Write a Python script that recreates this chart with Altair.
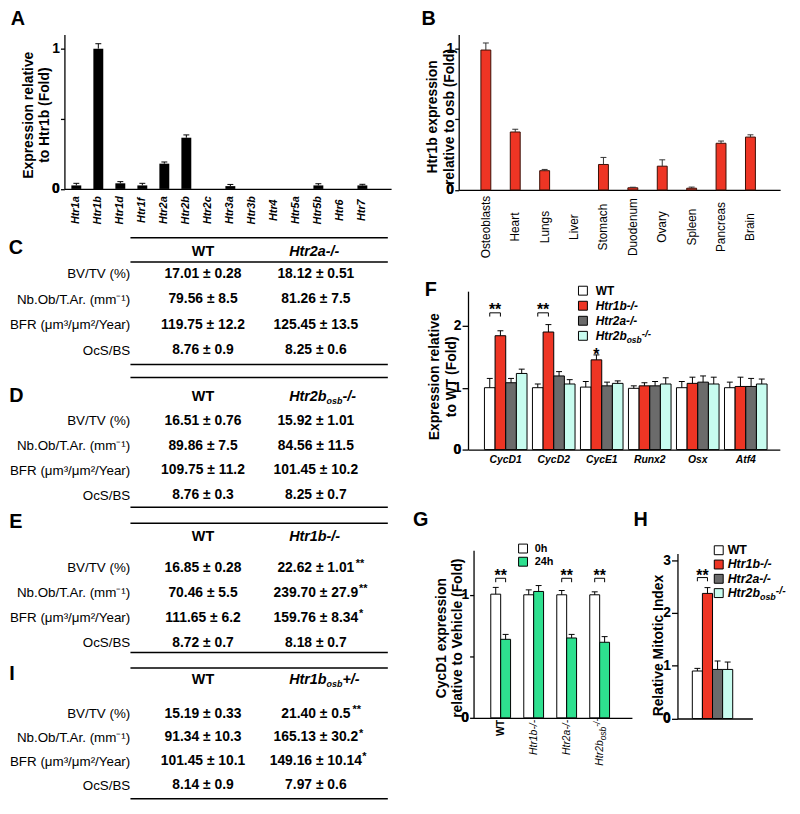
import altair as alt
import pandas as pd

FONT = "Liberation Sans"
RED = "#EE3524"
DARK = "#6B6B6B"
CYAN = "#C8FCEF"
GREEN = "#2EE08F"
WIDTH, HEIGHT = 792, 798
MARGIN = 8


def p(v):
    # page pixel -> plot pixel
    return v - MARGIN


BOLD_W = {"H": 722, "t": 333, "r": 389, "1": 556, "2": 556, "a": 556, "b": 611,
          "o": 611, "s": 556, "-": 333, "/": 278, "+": 584}
REG_W = {"H": 722, "t": 278, "r": 333, "1": 556, "2": 556, "a": 556, "b": 556,
         "o": 556, "s": 500, "-": 333, "/": 278, "+": 584}


def tw(s, size, table=BOLD_W):
    return sum(table[c] for c in s) * size / 1000.0


# ---------------- data ----------------
a_genes = ["Htr1a", "Htr1b", "Htr1d", "Htr1f", "Htr2a", "Htr2b", "Htr2c", "Htr3a",
           "Htr3b", "Htr4", "Htr5a", "Htr5b", "Htr6", "Htr7"]
a_mean = [0.025, 1.0, 0.04, 0.025, 0.18, 0.365, 0, 0.02, 0, 0, 0, 0.025, 0, 0.025]
a_err = [0.015, 0.035, 0.012, 0.015, 0.012, 0.02, 0, 0.012, 0, 0, 0, 0.012, 0, 0.008]

b_tissues = ["Osteoblasts", "Heart", "Lungs", "Liver", "Stomach", "Duodenum", "Ovary",
             "Spleen", "Pancreas", "Brain"]
b_mean = [0.99, 0.41, 0.136, 0, 0.18, 0.015, 0.168, 0.012, 0.33, 0.374]
b_err = [0.05, 0.02, 0.009, 0, 0.05, 0.004, 0.045, 0.008, 0.016, 0.016]

genotypes = ["WT", "Htr1b-/-", "Htr2a-/-", "Htr2bosb-/-"]
geno_colors = ["white", RED, DARK, CYAN]

f_genes = ["CycD1", "CycD2", "CycE1", "Runx2", "Osx", "Atf4"]
f_wt = [1.0, 1.0, 1.01, 0.99, 1.0, 1.0]
f_wt_err = [0.15, 0.06, 0.09, 0.04, 0.10, 0.09]
f_1b = [1.84, 1.90, 1.45, 1.03, 1.07, 1.02]
f_1b_err = [0.08, 0.12, 0.08, 0.05, 0.10, 0.15]
f_2a = [1.08, 1.19, 1.03, 1.03, 1.09, 1.02]
f_2a_err = [0.07, 0.07, 0.06, 0.07, 0.10, 0.13]
f_2b = [1.23, 1.06, 1.07, 1.06, 1.06, 1.06]
f_2b_err = [0.07, 0.07, 0.04, 0.10, 0.11, 0.08]
f_bracket_genes = ["CycD1", "CycD2"]
f_single_star_gene = "CycE1"

g_times = ["0h", "24h"]
g_0h = [1.005, 1.0, 1.0, 1.0]
g_0h_err = [0.055, 0.04, 0.035, 0.024]
g_24h = [0.638, 1.027, 0.649, 0.614]
g_24h_err = [0.04, 0.048, 0.029, 0.046]
g_bracket_groups = ["WT", "Htr2a-/-", "Htr2bosb-/-"]

h_set = ["Mitotic index"]
h_mean = [0.90, 2.37, 0.93, 0.93]
h_err = [0.05, 0.11, 0.16, 0.14]

metrics = ["BV/TV (%)", "Nb.Ob/T.Ar. (mm\u207b\u00b9)", "BFR (\u03bcm\u00b3/\u03bcm\u00b2/Year)", "OcS/BS"]
c_wt = ["17.01 \u00b1 0.28", "79.56 \u00b1 8.5", "119.75 \u00b1 12.2", "8.76 \u00b1 0.9"]
c_ko = ["18.12 \u00b1 0.51", "81.26 \u00b1 7.5", "125.45 \u00b1 13.5", "8.25 \u00b1 0.6"]
c_sig = ["", "", "", ""]
d_wt = ["16.51 \u00b1 0.76", "89.86 \u00b1 7.5", "109.75 \u00b1 11.2", "8.76 \u00b1 0.3"]
d_ko = ["15.92 \u00b1 1.01", "84.56 \u00b1 11.5", "101.45 \u00b1 10.2", "8.25 \u00b1 0.7"]
d_sig = ["", "", "", ""]
e_wt = ["16.85 \u00b1 0.28", "70.46 \u00b1 5.5", "111.65 \u00b1 6.2", "8.72 \u00b1 0.7"]
e_ko = ["22.62 \u00b1 1.01", "239.70 \u00b1 27.9", "159.76 \u00b1 8.34", "8.18 \u00b1 0.7"]
e_sig = ["**", "**", "*", ""]
i_wt = ["15.19 \u00b1 0.33", "91.34 \u00b1 10.3", "101.45 \u00b1 10.1", "8.14 \u00b1 0.9"]
i_ko = ["21.40 \u00b1 0.5", "165.13 \u00b1 30.2", "149.16 \u00b1 10.14", "7.97 \u00b1 0.6"]
i_sig = ["**", "*", "*", ""]


# ---------------- helpers ----------------
def bottom_axis(base_page, **kw):
    d = dict(orient="bottom", offset=p(base_page) - HEIGHT, title=None, ticks=False,
             tickSize=0, domainWidth=1.3, domainColor="black", labelColor="black",
             labelFont=FONT, labelOverlap=False, grid=False)
    d.update(kw)
    return alt.Axis(**d)


TITLE_SHIFT = 5  # rendered first title line sits ~5px left of the title anchor


def left_axis(ax_page, values, title, x_first_line, yc, lh=16.6, hide=None, tick=4):
    expr = "format(datum.value, '.1~f')"
    if hide is not None:
        expr = "datum.value == %s ? '' : %s" % (hide, expr)
    d = dict(orient="left", offset=-p(ax_page), values=values, labelExpr=expr, tickSize=tick,
             tickWidth=1.3, tickColor="black", labelPadding=1, labelFontSize=14,
             labelFontWeight="bold", labelFont=FONT, labelColor="black", domainWidth=1.3,
             labelOverlap=False, labelBound=False, labelFlush=False,
             domainColor="black", title=title, titleFont=FONT, titleFontSize=14,
             titleFontWeight="bold", titleColor="black",
             titleX=x_first_line + TITLE_SHIFT - ax_page, titleY=p(yc), titleAngle=270,
             titleAlign="center", titleBaseline="middle", titleLineHeight=lh, grid=False)
    return alt.Axis(**d)


def zero_label(df, ax_page, tick):
    # the baseline "0" tick label, placed through the panel's own y scale
    return alt.Chart(df.head(1)).mark_text(
        text="0", font=FONT, fontSize=14, fontWeight="bold", color="black",
        align="right", baseline="middle").encode(
        x=alt.value(p(ax_page) - tick - 1), y=alt.datum(0))


def yq(field):
    return alt.Y(field + ":Q")


def err_layers(df, x_enc, xo=None, color="black", cap=6):
    base = alt.Chart(df).transform_filter("datum.e > 0").transform_calculate(top="datum.v + datum.e")
    enc1 = dict(x=x_enc, y=yq("v"), y2="top:Q")
    enc2 = dict(x=x_enc, y=yq("top"))
    if xo is not None:
        enc1["xOffset"] = xo
        enc2["xOffset"] = xo
    r = base.mark_rule(color=color, strokeWidth=1).encode(**enc1)
    t = base.mark_tick(color=color, thickness=1, size=cap, orient="horizontal", opacity=1).encode(**enc2)
    return [r, t]


def bracket(df, field, sort, b0, b1, level, drop, stars, dy):
    out = [alt.Chart(df).mark_rule(color="black", strokeWidth=1).encode(
        x=alt.X(field + ":N", sort=sort, bandPosition=b0),
        x2=alt.X2(field + ":N", bandPosition=b1), y=alt.datum(level))]
    for bp in (b0, b1):
        out.append(alt.Chart(df).mark_rule(color="black", strokeWidth=1).encode(
            x=alt.X(field + ":N", sort=sort, bandPosition=bp),
            y=alt.datum(level), y2=alt.datum(level - drop)))
    out.append(alt.Chart(df).mark_text(text=stars, font=FONT, fontSize=16, fontWeight="bold", dy=dy).encode(
        x=alt.X(field + ":N", sort=sort, bandPosition=(b0 + b1) / 2), y=alt.datum(level)))
    return out


layers = []

# ---------------- Panel A ----------------
dfA = pd.DataFrame({"gene": a_genes, "v": a_mean, "e": a_err})
xA = alt.X("gene:N", sort=a_genes,
           scale=alt.Scale(domain=a_genes, range=[p(65), p(395)], paddingInner=0.55,
                           paddingOuter=0.6975, align=0.226),
           axis=bottom_axis(186.7, labelAngle=270, labelAlign="center", labelBaseline="middle",
                            labelPadding=21, labelFontSize=11, labelFontStyle="italic",
                            labelFontWeight="bold"))
yA = alt.Y("v:Q", scale=alt.Scale(domain=[0, 1.1], range=[p(186.7), p(30.8)], nice=False, zero=False),
           axis=left_axis(65, [0, 0.5, 1], ["Expression relative", "to Htr1b (Fold)"], 23.5, 111.7, hide=0.5))
barsA = alt.Chart(dfA).mark_bar(color="black").encode(x=xA, y=yA)
xA2 = alt.X("gene:N", sort=a_genes)
layers.append(alt.layer(barsA, *err_layers(dfA, xA2), zero_label(dfA, 65, 4)))

# ---------------- Panel B ----------------
dfB = pd.DataFrame({"tissue": b_tissues, "v": b_mean, "e": b_err})
xB = alt.X("tissue:N", sort=b_tissues,
           scale=alt.Scale(domain=b_tissues, range=[p(463.3), p(788)], paddingInner=0.663,
                           paddingOuter=0.798, align=0.473),
           axis=bottom_axis(187.7, labelAngle=270, labelAlign="center", labelBaseline="middle",
                            labelPadding=37, labelFontSize=12, labelFontWeight="normal"))
yB = alt.Y("v:Q", scale=alt.Scale(domain=[0, 1.1], range=[p(187.7), p(30.7)], nice=False, zero=False),
           axis=left_axis(463.3, [0, 0.5, 1], ["Htr1b expression", "relative to osb (Fold)"], 432, 113.5, hide=0.5))
barsB = alt.Chart(dfB).transform_filter("datum.v > 0").mark_bar(color=RED, stroke="#3b0f06", strokeWidth=1).encode(x=xB, y=yB)
xB2 = alt.X("tissue:N", sort=b_tissues)
layers.append(alt.layer(barsB, *err_layers(dfB, xB2, color="#333333"), zero_label(dfB, 463.3, 4)))

# ---------------- Panel F ----------------
rows = []
for gi, g in enumerate(f_genes):
    for k, (vals, errs) in enumerate([(f_wt, f_wt_err), (f_1b, f_1b_err), (f_2a, f_2a_err), (f_2b, f_2b_err)]):
        rows.append({"gene": g, "grp": genotypes[k], "v": vals[gi], "e": errs[gi]})
dfF = pd.DataFrame(rows)
xF = alt.X("gene:N", sort=f_genes,
           scale=alt.Scale(domain=f_genes, range=[p(472.7), p(787.7)], paddingInner=0.113,
                           paddingOuter=0.304, align=0.563),
           axis=bottom_axis(450, labelAngle=0, labelBaseline="top", labelPadding=5, labelFontSize=10.5,
                            labelFontStyle="italic", labelFontWeight="bold"))
xoF = alt.XOffset("grp:N", sort=genotypes, scale=alt.Scale(domain=genotypes, paddingInner=0, paddingOuter=0))
yF = alt.Y("v:Q", scale=alt.Scale(domain=[0, 2.56], range=[p(450), p(290)], nice=False, zero=False),
           axis=left_axis(472.7, [0, 1, 2], ["Expression relative", "to WT (Fold)"], 434, 376, tick=6))
fillF = alt.Fill("grp:N", scale=alt.Scale(domain=genotypes, range=geno_colors), legend=None)
barsF = alt.Chart(dfF).mark_bar(stroke="black", strokeWidth=1).encode(x=xF, xOffset=xoF, y=yF, fill=fillF)
xF2 = alt.X("gene:N", sort=f_genes)
fl = [barsF] + err_layers(dfF, xF2, xo=alt.XOffset("grp:N", sort=genotypes))
fl += bracket(pd.DataFrame({"gene": f_bracket_genes}), "gene", f_genes, 0.125, 0.375, 2.21, 0.06, "**", -2.5)
fl.append(alt.Chart(dfF).transform_filter(
    "datum.gene == '%s' && datum.grp == 'Htr1b-/-'" % f_single_star_gene).transform_calculate(
    top="datum.v + datum.e").mark_text(text="*", font=FONT, fontSize=16, fontWeight="bold", dy=0.6).encode(
    x=xF2, xOffset=alt.XOffset("grp:N", sort=genotypes), y=yq("top")))
fl.append(zero_label(dfF, 472.7, 6))
layers.append(alt.layer(*fl))

# ---------------- Panel G ----------------
rows = []
for gi, g in enumerate(genotypes):
    rows.append({"grp": g, "time": "0h", "v": g_0h[gi], "e": g_0h_err[gi]})
    rows.append({"grp": g, "time": "24h", "v": g_24h[gi], "e": g_24h_err[gi]})
dfG = pd.DataFrame(rows)
xG = alt.X("grp:N", sort=genotypes,
           scale=alt.Scale(domain=genotypes, range=[p(478.3), p(638.3)], paddingInner=0.4,
                           paddingOuter=0.6, align=0.435),
           axis=bottom_axis(721, labels=False))
xoG = alt.XOffset("time:N", sort=g_times, scale=alt.Scale(domain=g_times, paddingInner=0, paddingOuter=0))
yG = alt.Y("v:Q", scale=alt.Scale(domain=[0, 1.362], range=[p(721), p(551.7)], nice=False, zero=False),
           axis=left_axis(478.3, [0, 0.5, 1], ["CycD1 expression", "relative to Vehicle (Fold)"], 440.7, 640, hide=0.5))
fillG = alt.Fill("time:N", scale=alt.Scale(domain=g_times, range=["white", GREEN]), legend=None)
barsG = alt.Chart(dfG).mark_bar(stroke="black", strokeWidth=1).encode(x=xG, xOffset=xoG, y=yG, fill=fillG)
xG2 = alt.X("grp:N", sort=genotypes)
gl = [barsG] + err_layers(dfG, xG2, xo=alt.XOffset("time:N", sort=g_times))
gl += bracket(pd.DataFrame({"grp": g_bracket_groups}), "grp", genotypes, 0.25, 0.75, 1.134, 0.032, "**", -2.5)
# category labels (rotated)
dfGl = pd.DataFrame({"grp": genotypes, "v": [0.0] * len(genotypes)})
gl.append(alt.Chart(dfGl).transform_filter("datum.grp == 'WT'").mark_text(
    font=FONT, fontSize=10.5, fontWeight="bold", angle=270, align="right", baseline="middle", dx=-2).encode(
    x=xG2, y=yq("v"), text="grp:N"))
gl.append(alt.Chart(dfGl).transform_filter("datum.grp == 'Htr1b-/-' || datum.grp == 'Htr2a-/-'").mark_text(
    font=FONT, fontSize=10.5, fontStyle="italic", angle=270, align="right", baseline="middle", dx=-2).encode(
    x=xG2, y=yq("v"), text="grp:N"))
w_sup = tw("-/-", 8.5, REG_W)
w_sub = tw("osb", 8.5, REG_W)
for txt, dx, dy, size in [("-/-", 0, -3, 8.5), ("osb", -w_sup, 3, 8.5), ("Htr2b", -(w_sup + w_sub), 0, 10.5)]:
    gl.append(alt.Chart(dfGl).transform_filter("datum.grp == 'Htr2bosb-/-'").mark_text(
        font=FONT, fontSize=size, fontStyle="italic", angle=270, align="right", baseline="middle",
        dx=dx - 1, dy=dy, text=txt).encode(x=xG2, y=yq("v")))
gl.append(zero_label(dfG, 478.3, 4))
layers.append(alt.layer(*gl))

# ---------------- Panel H ----------------
dfH = pd.DataFrame({"set": h_set * len(genotypes), "grp": genotypes, "v": h_mean, "e": h_err})
xH = alt.X("set:N",
           scale=alt.Scale(domain=h_set, range=[p(684.3), p(760)], paddingInner=0,
                           paddingOuter=0.4275, align=0.43),
           axis=bottom_axis(721.7, labels=False))
xoH = alt.XOffset("grp:N", sort=genotypes, scale=alt.Scale(domain=genotypes, paddingInner=0, paddingOuter=0))
yH = alt.Y("v:Q", scale=alt.Scale(domain=[0, 3.126], range=[p(721.7), p(555)], nice=False, zero=False),
           axis=left_axis(684.3, [0, 1, 2, 3], "Relative Mitotic Index", 660, 647.5, tick=6))
fillH = alt.Fill("grp:N", scale=alt.Scale(domain=genotypes, range=geno_colors), legend=None)
barsH = alt.Chart(dfH).mark_bar(stroke="black", strokeWidth=1).encode(x=xH, xOffset=xoH, y=yH, fill=fillH)
xH2 = alt.X("set:N")
hl = [barsH] + err_layers(dfH, xH2, xo=alt.XOffset("grp:N", sort=genotypes))
hl += bracket(pd.DataFrame({"set": h_set}), "set", h_set, 0.125, 0.375, 2.67, 0.07, "**", -1.7)
hl.append(zero_label(dfH, 684.3, 6))
layers.append(alt.layer(*hl))


# ---------------- custom legends ----------------
def legend(keys, colors, sq_x, txt_x, y0, y1, fsize, sq=81, last_pieces=None, italic=True):
    df = pd.DataFrame({"k": keys})
    ys = alt.Scale(domain=keys, range=[p(y0), p(y1)], padding=0)
    y = alt.Y("k:N", sort=keys, scale=ys, axis=None)
    y2 = alt.Y("k:N", sort=keys, axis=None)
    out = [alt.Chart(df).mark_point(shape="square", filled=True, size=sq, stroke="black",
                                    strokeWidth=1, opacity=1).encode(
        x=alt.value(p(sq_x)), y=y,
        fill=alt.Fill("k:N", scale=alt.Scale(domain=keys, range=colors), legend=None))]
    plain = "datum.k == 'WT'" if italic else "true"
    out.append(alt.Chart(df).transform_filter(plain).mark_text(
        font=FONT, fontSize=fsize, fontWeight="bold", align="left", baseline="middle").encode(
        x=alt.value(p(txt_x)), y=y2, text="k:N"))
    if italic:
        out.append(alt.Chart(df).transform_filter("datum.k != 'WT' && datum.k != 'Htr2bosb-/-'").mark_text(
            font=FONT, fontSize=fsize, fontWeight="bold", fontStyle="italic", align="left",
            baseline="middle").encode(x=alt.value(p(txt_x)), y=y2, text="k:N"))
    if last_pieces:
        for txt, dx, dy, size in last_pieces:
            out.append(alt.Chart(df).transform_filter("datum.k == 'Htr2bosb-/-'").mark_text(
                font=FONT, fontSize=size, fontWeight="bold", fontStyle="italic", align="left",
                baseline="middle", dx=dx, dy=dy, text=txt).encode(x=alt.value(p(txt_x)), y=y2))
    return alt.layer(*out)


def osb_pieces(fs, sub, sup):
    w1 = tw("Htr2b", fs)
    w2 = tw("osb", sub)
    return [("Htr2b", 0, 0, fs), ("osb", w1, 4, sub), ("-/-", w1 + w2, -2, sup)]


layers.append(legend(genotypes, geno_colors, 588.8, 601.7, 289.5, 335.1, 12,
                     last_pieces=osb_pieces(12, 8.5, 10)))
layers.append(legend(genotypes, geno_colors, 726, 735, 551.7, 595, 12.5,
                     last_pieces=osb_pieces(12.5, 9, 10.5)))
layers.append(legend(g_times, ["white", GREEN], 528.3, 540, 550, 563.3, 11, italic=False))


# ---------------- tables ----------------
def table(wt, ko, sig, rows_page, header_page, lines_page, ko_pieces):
    n = len(metrics)
    df = pd.DataFrame({"metric": metrics + metrics, "col": ["WT"] * n + ["KO"] * n,
                       "v": wt + ko, "s": [""] * n + sig})
    xs = alt.Scale(domain=["WT", "KO"], range=[p(205), p(319)], padding=0)
    ys = alt.Scale(domain=metrics, range=[p(rows_page[0]), p(rows_page[1])], padding=0)
    yax = alt.Axis(orient="left", offset=-p(131), domain=False, ticks=False, labelPadding=0,
                   title=None, labelFontSize=13.5, labelFontWeight="normal", labelColor="black",
                   labelLimit=400, labelFont=FONT, grid=False)
    out = [alt.Chart(df).mark_text(font=FONT, fontSize=14, fontWeight="bold", color="black").encode(
        x=alt.X("col:N", scale=xs, axis=None),
        y=alt.Y("metric:N", sort=metrics, scale=ys, axis=yax), text="v:N")]
    out.append(alt.Chart(df).transform_filter("datum.s != ''").mark_text(
        font=FONT, fontSize=11, fontWeight="bold", color="black", align="left",
        dx=alt.ExprRef(expr="3.27*length(datum.v)+1"), dy=-4).encode(
        x=alt.X("col:N", axis=None), y=alt.Y("metric:N", sort=metrics), text="s:N"))
    out.append(alt.Chart(pd.DataFrame({"col": ["WT"]})).mark_text(
        font=FONT, fontSize=14.5, fontWeight="bold", color="black").encode(
        x=alt.X("col:N", axis=None), y=alt.value(p(header_page)), text="col:N"))
    for txt, dx, dy, size in ko_pieces:
        out.append(alt.Chart(pd.DataFrame({"t": [txt]})).mark_text(
            font=FONT, fontSize=size, fontWeight="bold", fontStyle="italic", align="left",
            color="black", dx=dx, dy=dy).encode(x=alt.value(p(292)), y=alt.value(p(header_page)), text="t:N"))
    for yl in lines_page:
        out.append(alt.Chart(pd.DataFrame({"t": [0]})).mark_rule(color="black", strokeWidth=1.5).encode(
            x=alt.value(p(131.7)), x2=alt.value(p(391.7)), y=alt.value(p(yl))))
    return alt.layer(*out)


HF = 14.5
w_h = tw("Htr2b", HF)
w_o = tw("osb", 9)
layers.append(table(c_wt, c_ko, c_sig, (272.5, 349.5), 250, [236, 260.5, 364], [("Htr2a-/-", 0, 0, HF)]))
layers.append(table(d_wt, d_ko, d_sig, (421, 496), 396.7, [377.3, 508.3],
                    [("Htr2b", 0, 0, HF), ("osb", w_h, 4, 9), ("-/-", w_h + w_o, 0, HF)]))
layers.append(table(e_wt, e_ko, e_sig, (569.3, 645), 538.3, [524.5, 655], [("Htr1b-/-", 0, 0, HF)]))
layers.append(table(i_wt, i_ko, i_sig, (716.7, 789.3), 683.3, [670.7, 802.7],
                    [("Htr1b", 0, 0, HF), ("osb", w_h, 4, 9), ("+/-", w_h + w_o, 0, HF)]))

# ---------------- panel letters ----------------
for letter, lx, ly in [("A", 18, 15), ("B", 433, 15), ("C", 16, 246), ("D", 16.5, 396),
                       ("E", 16, 523), ("I", 12, 677), ("F", 435, 289), ("G", 425, 521),
                       ("H", 647, 521)]:
    layers.append(alt.Chart(pd.DataFrame({"t": [letter]})).mark_text(
        font=FONT, fontSize=20, fontWeight="bold", color="black").encode(
        x=alt.value(p(lx)), y=alt.value(p(ly)), text="t:N"))

chart = alt.layer(*layers).resolve_scale(
    x="independent", y="independent", xOffset="independent", fill="independent"
).properties(
    width=WIDTH, height=HEIGHT, padding=0, autosize=alt.AutoSizeParams(type="none")
).configure_view(strokeWidth=0).configure_axis(grid=False)

chart.save("out.html", embed_options={"renderer": "svg", "actions": False})
